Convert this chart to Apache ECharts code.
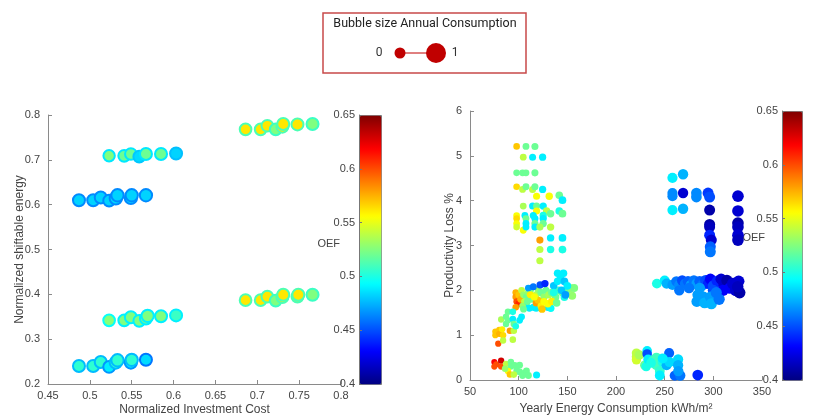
<!DOCTYPE html>
<html><head><meta charset="utf-8">
<script src="https://cdn.jsdelivr.net/npm/echarts@6/dist/echarts.min.js"></script>
<style>html,body{margin:0;padding:0;background:#fff}#c{width:813px;height:418px}</style>
</head><body><div id="c"></div>
<script>
// ---------- colour scale (jet) ----------
const jetStops = ['#000080','#0000ff','#0080ff','#00ffff','#80ff80','#ffff00','#ff8000','#ff0000','#800000'];
const oefMin = 0.4, oefMax = 0.65;
const oefTicks = [0.4, 0.45, 0.5, 0.55, 0.6, 0.65];

// ---------- left chart data ----------
const leftX = [
  0.487,0.504,0.513,0.523,0.531,0.533,0.549,0.550,0.567,
  0.523,0.541,0.549,0.559,0.567,0.585,0.603,
  0.686,0.704,0.712,0.722,0.730,0.731,0.748,0.766,
  0.523,0.541,0.549,0.559,0.567,0.569,0.585,0.603,
  0.487,0.504,0.513,0.523,0.531,0.533,0.549,0.550,0.567,
  0.686,0.704,0.712,0.722,0.730,0.731,0.748,0.749,0.766];
const leftY = [
  0.610,0.610,0.616,0.609,0.614,0.621,0.615,0.621,0.621,
  0.709,0.709,0.713,0.707,0.713,0.713,0.714,
  0.768,0.768,0.776,0.768,0.774,0.780,0.779,0.780,
  0.342,0.342,0.349,0.341,0.346,0.352,0.351,0.353,
  0.240,0.240,0.249,0.238,0.248,0.253,0.248,0.254,0.254,
  0.387,0.387,0.395,0.386,0.394,0.399,0.395,0.399,0.399];
const leftFill = [
  0.483,0.483,0.483,0.483,0.483,0.483,0.483,0.483,0.483,
  0.525,0.52,0.52,0.485,0.52,0.52,0.483,
  0.562,0.562,0.562,0.525,0.562,0.562,0.562,0.525,
  0.527,0.525,0.525,0.525,0.525,0.525,0.525,0.508,
  0.505,0.505,0.505,0.49,0.505,0.505,0.49,0.505,0.485,
  0.562,0.562,0.562,0.525,0.562,0.562,0.562,0.562,0.525];
const leftEdge = [
  0.465,0.465,0.465,0.465,0.465,0.465,0.465,0.465,0.465,
  0.488,0.488,0.488,0.48,0.488,0.488,0.478,
  0.512,0.512,0.512,0.508,0.512,0.512,0.512,0.508,
  0.495,0.49,0.49,0.49,0.49,0.49,0.49,0.49,
  0.477,0.477,0.477,0.468,0.477,0.477,0.468,0.477,0.46,
  0.512,0.512,0.512,0.508,0.512,0.512,0.512,0.512,0.508];
const leftSize = [
  0.5,0.5,0.5,0.45,0.55,0.55,0.55,0.55,0.55,
  0.4,0.45,0.45,0.45,0.5,0.5,0.5,
  0.45,0.45,0.45,0.45,0.5,0.5,0.5,0.5,
  0.45,0.45,0.5,0.45,0.5,0.55,0.5,0.5,
  0.5,0.5,0.5,0.45,0.55,0.55,0.55,0.55,0.5,
  0.45,0.45,0.45,0.45,0.5,0.5,0.5,0.5,0.5];

// ---------- right chart data ----------
const rightX = [
  // upper-left cluster
  97.9,107.5,116.7,104.7,114.3,124.6,97.9,104,107.5,116.7,97.9,104,107.5,114.3,116.7,124.6,
  118.4,131.4,141.7,145,104.7,114.3,118.4,125.2,118.4,128.7,132.8,141.7,145,97.9,97.9,106.4,
  107.5,115,116.7,125.2,125.2,97.9,107.5,116.7,125.2,97.9,104.7,107.5,116.7,121.8,132.8,
  121.8,132.8,145,121.8,132.8,145,121.8,
  // middle-left cluster
  97,97,98,100,97,100,102,103,105,108,110,112,106,113,118,120,123,126,128,131,134,138,141,145,
  150,154,157,155,147,108,111,115,118,122,130,133,110,115,122,127,136,140,143,146,140,147,150,
  144,148,118,120,123,124,126,130,134,112,116,104,105,109,136,139,
  // lower-left cluster
  76,76,80,80,83,84,91,79,84,94,82,87,89,89,94,94,95,95,87,101,103,97,
  // bottom-left cluster
  75,75,77,82,82,87,92,92,89,91,96,98,101,101,106,108,110,104,118.4,86,95,
  // bottom-right cluster
  221,221,221,224,229.6,231,232,232,233,238,241.5,241.5,245,245,248,252,254.6,255,263.8,263.8,
  260.4,266,264,284,236,248,
  // upper-right cluster
  258,268.9,258,258,268.9,282.6,282.6,294.6,296.2,325.3,258,268.9,296.2,325.3,296.2,296.2,
  325.3,325.3,296.2,297.9,325.3,325.3,296.9,296.9,
  // middle-right cluster
  242,250,252,258,262,265,268,271,274,277,280,283,286,289,292,295,297,300,304,308,311,314,317,
  320,323,326,327,325,310,300,286,284,283,290,291,297,298,303,306,265,275];
const rightY = [
  5.21,5.21,5.21,4.97,4.97,4.97,4.62,4.62,4.62,4.62,4.31,4.25,4.31,4.25,4.31,4.25,
  4.1,4.1,4.12,4.01,3.88,3.88,3.88,3.88,3.77,3.77,3.71,3.77,3.71,3.67,3.6,3.67,
  3.6,3.67,3.6,3.67,3.6,3.49,3.49,3.49,3.49,3.41,3.34,3.41,3.41,3.41,3.41,
  3.12,3.17,3.17,2.91,2.91,2.91,2.66,
  1.95,1.85,1.75,1.7,1.62,1.9,1.8,2.0,1.9,1.85,1.95,2.0,1.75,1.8,1.9,2.02,1.95,1.85,2.0,1.9,1.95,1.85,2.0,1.95,
  2.02,2.05,2.05,1.88,1.85,1.65,1.6,1.62,1.6,1.7,1.62,1.6,2.05,2.08,2.12,2.15,2.1,2.2,2.3,2.38,2.38,2.2,2.1,
  2.0,1.9,1.72,1.78,1.65,1.58,1.75,1.7,1.75,1.9,1.85,1.65,1.58,1.75,1.95,1.72,
  1.08,1.0,1.12,1.03,1.13,1.0,1.1,0.81,0.88,0.9,1.35,1.41,1.52,1.33,1.52,1.36,1.25,1.1,1.25,1.33,1.41,1.2,
  0.4,0.3,0.35,0.43,0.3,0.36,0.4,0.3,0.2,0.12,0.33,0.22,0.33,0.18,0.15,0.2,0.1,0.1,0.11,0.25,0.12,
  0.6,0.52,0.45,0.56,0.33,0.3,0.65,0.58,0.46,0.43,0.5,0.33,0.2,0.1,0.4,0.33,0.6,0.4,0.46,0.33,
  0.1,0.1,0.2,0.11,0.38,0.48,
  4.51,4.59,4.17,4.1,4.17,4.17,4.08,4.17,4.08,4.1,3.79,3.82,3.79,3.77,3.47,3.41,
  3.5,3.41,3.23,3.12,3.23,3.12,2.97,2.86,
  2.15,2.22,2.15,2.12,2.2,2.12,2.22,2.15,2.2,2.12,2.22,2.15,2.2,2.12,2.22,2.15,2.25,2.1,2.2,2.25,2.12,2.22,2.05,
  2.15,2.0,2.2,1.95,2.08,2.0,2.0,2.05,1.9,1.75,1.85,1.72,1.85,1.7,1.95,1.8,2.0,2.05];
const rightOEF = [
  0.57,0.52,0.52,0.54,0.49,0.49,0.52,0.52,0.52,0.52,0.565,0.54,0.52,0.54,0.52,0.49,
  0.555,0.555,0.52,0.49,0.535,0.49,0.52,0.49,0.555,0.54,0.52,0.5,0.52,0.555,0.565,0.49,
  0.52,0.49,0.49,0.5,0.49,0.555,0.49,0.52,0.52,0.545,0.555,0.49,0.49,0.535,0.54,
  0.58,0.49,0.49,0.54,0.5,0.5,0.54,
  0.575,0.58,0.6,0.61,0.58,0.57,0.575,0.54,0.53,0.52,0.53,0.52,0.54,0.52,0.54,0.53,0.52,0.53,0.52,0.535,0.52,0.52,0.51,0.52,
  0.52,0.53,0.525,0.53,0.5,0.49,0.49,0.49,0.49,0.48,0.49,0.495,0.47,0.46,0.45,0.44,0.48,0.49,0.49,0.49,0.49,0.48,0.49,
  0.48,0.47,0.58,0.57,0.56,0.57,0.555,0.555,0.56,0.56,0.555,0.53,0.52,0.52,0.5,0.52,
  0.57,0.57,0.57,0.575,0.56,0.565,0.58,0.6,0.54,0.54,0.535,0.52,0.52,0.52,0.5,0.49,0.52,0.54,0.52,0.49,0.49,0.5,
  0.62,0.6,0.6,0.63,0.6,0.54,0.52,0.52,0.555,0.57,0.52,0.52,0.52,0.52,0.52,0.52,0.52,0.52,0.49,0.53,0.54,
  0.54,0.54,0.545,0.535,0.52,0.5,0.49,0.45,0.49,0.505,0.51,0.51,0.505,0.49,0.5,0.475,0.455,0.485,0.485,0.475,
  0.455,0.46,0.47,0.44,0.5,0.49,
  0.49,0.475,0.465,0.465,0.42,0.465,0.465,0.445,0.45,0.42,0.49,0.475,0.41,0.42,0.41,0.415,
  0.41,0.415,0.44,0.42,0.42,0.415,0.455,0.46,
  0.5,0.49,0.475,0.47,0.46,0.465,0.45,0.46,0.455,0.47,0.46,0.47,0.455,0.46,0.45,0.44,0.43,0.45,0.44,0.42,0.42,0.41,0.43,
  0.42,0.42,0.42,0.41,0.415,0.43,0.45,0.47,0.47,0.47,0.47,0.475,0.47,0.475,0.46,0.46,0.46,0.46];

// ---------- helpers ----------
function hexToRgb(h){return [parseInt(h.slice(1,3),16),parseInt(h.slice(3,5),16),parseInt(h.slice(5,7),16)];}
function jet(v){
  let t=(v-oefMin)/(oefMax-oefMin); t=Math.max(0,Math.min(1,t));
  const p=t*(jetStops.length-1), i=Math.min(Math.floor(p),jetStops.length-2), f=p-i;
  const a=hexToRgb(jetStops[i]), b=hexToRgb(jetStops[i+1]);
  return 'rgb('+a.map((c,k)=>Math.round(c+(b[k]-c)*f)).join(',')+')';
}
const leftData = leftX.map((x,i)=>({value:[x,leftY[i],leftFill[i],leftSize[i]],itemStyle:{borderColor:jet(leftEdge[i])}}));
const rightData = rightX.map((x,i)=>[x,rightY[i],rightOEF[i]]);

const FONT = 'Liberation Sans';
const axisCommon = {
  nameMoveOverlap:false,
  axisLine:{show:true,lineStyle:{color:'#8a8a8a',width:1}},
  axisTick:{show:true,inside:true,length:4,lineStyle:{color:'#8a8a8a'}},
  splitLine:{show:false},
  axisLabel:{color:'#444',fontSize:11,fontFamily:FONT},
  nameTextStyle:{color:'#444',fontSize:12,fontFamily:FONT}
};
const cbAxis = {
  type:'value',min:oefMin,max:oefMax,interval:0.05,z:10,
  axisLine:{show:true,lineStyle:{color:'#777'}},
  axisTick:{show:true,inside:true,length:3,lineStyle:{color:'#777'}},
  splitLine:{show:false},
  axisLabel:{color:'#444',fontSize:11,fontFamily:FONT,margin:4}
};

const chart = echarts.init(document.getElementById('c'));
chart.setOption({
  backgroundColor:'#fff',
  animation:false,
  grid:[
    {left:48,top:115,width:293,height:269,outerBoundsMode:'none',containLabel:false},
    {left:359,top:115,width:22,height:269,outerBoundsMode:'none',containLabel:false},
    {left:470,top:111,width:292,height:269,outerBoundsMode:'none',containLabel:false},
    {left:782,top:111,width:20,height:269,outerBoundsMode:'none',containLabel:false}
  ],
  xAxis:[
    Object.assign({},axisCommon,{gridIndex:0,type:'value',min:0.45,max:0.8,interval:0.05,
      name:'Normalized Investment Cost',nameLocation:'middle',nameGap:20,axisLabel:Object.assign({},axisCommon.axisLabel,{margin:6})}),
    {gridIndex:1,type:'value',min:0,max:1,show:false},
    Object.assign({},axisCommon,{gridIndex:2,type:'value',min:50,max:350,interval:50,
      name:'Yearly Energy Consumption kWh/m²',nameLocation:'middle',nameGap:23,axisLabel:Object.assign({},axisCommon.axisLabel,{margin:6})}),
    {gridIndex:3,type:'value',min:0,max:1,show:false}
  ],
  yAxis:[
    Object.assign({},axisCommon,{gridIndex:0,type:'value',min:0.2,max:0.8,interval:0.1,
      name:'Normalized shiftable energy',nameLocation:'middle',nameGap:22}),
    Object.assign({},cbAxis,{gridIndex:1}),
    Object.assign({},axisCommon,{gridIndex:2,type:'value',min:0,max:6,interval:1,
      name:'Productivity Loss %',nameLocation:'middle',nameGap:14}),
    Object.assign({},cbAxis,{gridIndex:3})
  ],
  visualMap:[
    {type:'continuous',seriesIndex:0,dimension:2,min:oefMin,max:oefMax,calculable:false,hoverLink:false,
      orient:'vertical',left:359,top:115,itemWidth:22,itemHeight:269,padding:0,
      borderColor:'#777',borderWidth:1,inRange:{color:jetStops}},
    {type:'continuous',seriesIndex:1,dimension:2,min:oefMin,max:oefMax,calculable:false,hoverLink:false,
      orient:'vertical',left:782,top:111,itemWidth:20,itemHeight:269,padding:0,
      borderColor:'#777',borderWidth:1,inRange:{color:jetStops}}
  ],
  series:[
    {type:'scatter',xAxisIndex:0,yAxisIndex:0,data:leftData,
      symbolSize:v=>9+6*v[3],itemStyle:{borderWidth:2,opacity:1}},
    {type:'scatter',xAxisIndex:2,yAxisIndex:2,data:rightData,
      symbolSize:v=>4.5+0.022*v[0],itemStyle:{opacity:1}}
  ],
  graphic:[
    {type:'rect',shape:{x:323,y:13,width:203,height:60},style:{fill:'#fff',stroke:'#c84a4a',lineWidth:1.5}},
    {type:'text',x:425,y:24,style:{text:'Bubble size Annual Consumption',fill:'#222',font:'12.5px Roboto',align:'center',verticalAlign:'middle'}},
    {type:'text',x:379,y:53,style:{text:'0',fill:'#333',font:'12px Roboto',align:'center',verticalAlign:'middle'}},
    {type:'line',shape:{x1:405,y1:53,x2:427,y2:53},style:{stroke:'#c00000',lineWidth:1}},
    {type:'circle',shape:{cx:400,cy:53,r:5.5},style:{fill:'#c00000'}},
    {type:'circle',shape:{cx:436,cy:53,r:10},style:{fill:'#c00000'}},
    {type:'text',x:455,y:53,style:{text:'1',fill:'#333',font:'12px Roboto',align:'center',verticalAlign:'middle'}},
    {type:'text',x:340,y:244,style:{text:'OEF',fill:'#444',font:'11px Liberation Sans',align:'right',verticalAlign:'middle'}},
    {type:'text',x:765,y:238,style:{text:'OEF',fill:'#444',font:'11px Liberation Sans',align:'right',verticalAlign:'middle'}}
  ]
});
</script></body></html>
